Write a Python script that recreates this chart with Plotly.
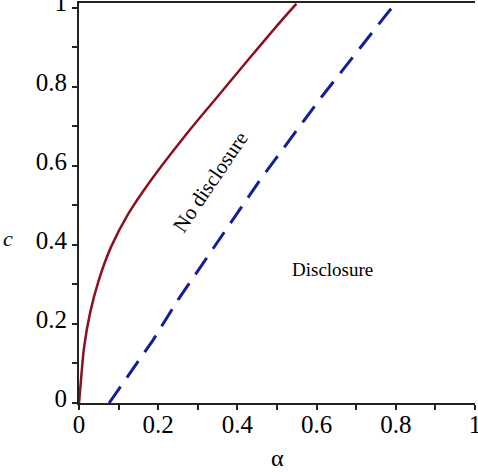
import plotly.graph_objects as go

# Boundary "No disclosure" (solid red)
red_alpha = [0, 0.005, 0.013, 0.028, 0.05, 0.081, 0.124, 0.179, 0.263, 0.348, 0.432, 0.515, 0.549]
red_c = [0, 0.058, 0.142, 0.228, 0.311, 0.395, 0.478, 0.560, 0.670, 0.773, 0.874, 0.972, 1.01]

# Boundary "Disclosure" (dashed blue)
blue_alpha = [0.076, 0.187, 0.25, 0.347, 0.457, 0.609, 0.785, 0.806]
blue_c = [0, 0.159, 0.261, 0.403, 0.564, 0.77, 0.994, 1.01]

tick_vals = [0, 0.2, 0.4, 0.6, 0.8, 1]
tick_text = ["0", "0.2", "0.4", "0.6", "0.8", "1"]

FONT = "Liberation Serif, Times New Roman, serif"

fig = go.Figure()
fig.add_trace(go.Scatter(x=red_alpha, y=red_c, mode="lines",
                         line=dict(color="#8c1020", width=2.5, shape="spline", smoothing=1.0),
                         showlegend=False, hoverinfo="skip"))
fig.add_trace(go.Scatter(x=blue_alpha, y=blue_c, mode="lines",
                         line=dict(color="#141e96", width=3, dash="20px,11px"),
                         showlegend=False, hoverinfo="skip"))

axis_common = dict(
    showgrid=False, zeroline=False, showline=True, linecolor="#222", linewidth=2,
    ticks="outside", ticklen=5, tickwidth=1.5, tickcolor="#222",
    tickvals=tick_vals, ticktext=tick_text,
    tickfont=dict(family=FONT, size=25, color="black"),
    ticklabeloverflow="allow", automargin=False,
    minor=dict(dtick=0.1, ticks="outside", ticklen=5, tickwidth=1.5, tickcolor="#222", showgrid=False),
)

fig.update_xaxes(range=[0, 1], mirror=True, ticklabelstandoff=-7, **axis_common)
fig.update_yaxes(range=[0, 1.012], ticklabelshift=-5, **axis_common)

fig.add_annotation(x=0.331, y=0.56, xref="x", yref="y", text="No disclosure", textangle=-56, showarrow=False,
                   font=dict(family=FONT, size=21, color="black"))
fig.add_annotation(x=0.641, y=0.339, xref="x", yref="y", text="Disclosure", showarrow=False,
                   font=dict(family=FONT, size=19, color="black"))
fig.add_annotation(x=(8 - 79) / 396, y=(403 - 238) / 400, xref="paper", yref="paper", text="<i>c</i>",
                   xanchor="center", yanchor="middle",
                   showarrow=False, font=dict(family=FONT, size=22, color="black"))
fig.add_annotation(x=0.5, y=(403 - 458) / 400, xref="x", yref="paper", text="α", showarrow=False,
                   xanchor="center", yanchor="middle",
                   font=dict(family=FONT, size=24, color="black"))

fig.update_layout(
    width=478, height=472,
    margin=dict(l=79, r=3, t=3, b=69),
    font=dict(family=FONT, color="black"),
    paper_bgcolor="white", plot_bgcolor="white",
)

fig.write_html("out.html", config={"displayModeBar": False},
               post_script="document.body.style.margin='0px';document.body.style.overflow='hidden';")
